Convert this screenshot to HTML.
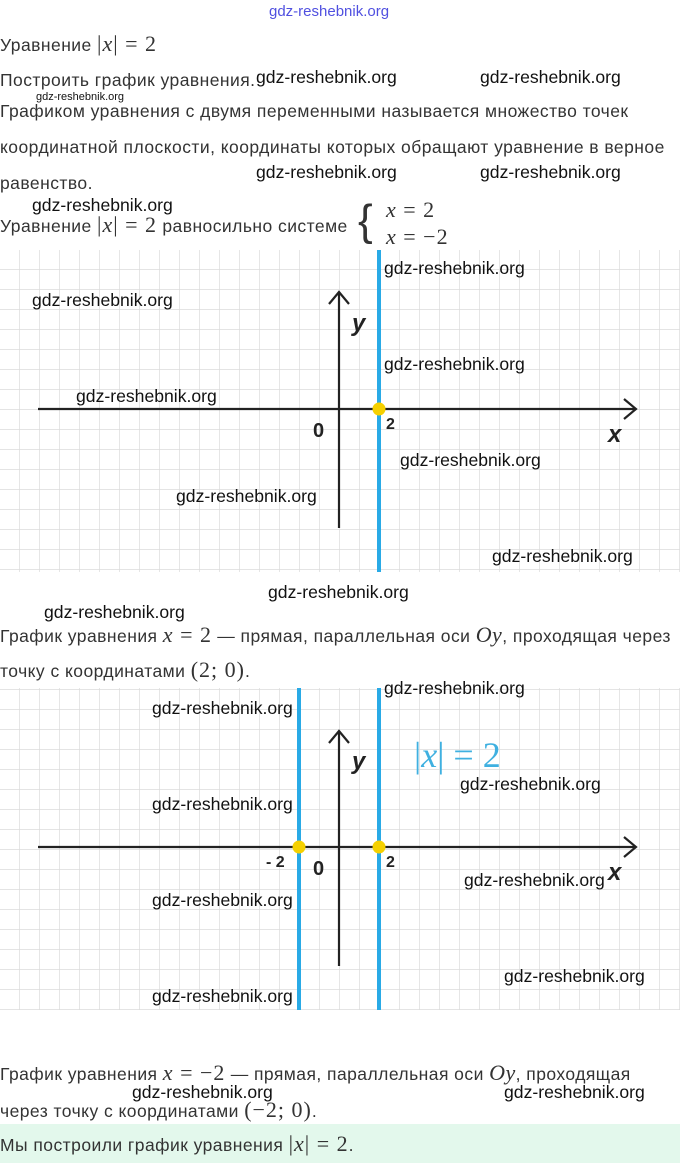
<!DOCTYPE html>
<html><head><meta charset="utf-8"><style>
body{margin:0;width:680px;height:1163px;position:relative;background:#fff;overflow:hidden;font-family:"Liberation Sans",sans-serif;}
.t{position:absolute;left:0;font-size:17.5px;letter-spacing:0.45px;color:#333;white-space:nowrap;line-height:20px;}
.m{font-family:"Liberation Serif",serif;font-size:22px;letter-spacing:1px;}
.mi{font-family:"Liberation Serif",serif;font-style:italic;font-size:22px;}
.w{position:absolute;font-size:17.6px;color:#111;white-space:nowrap;line-height:20px;font-family:"Liberation Sans",sans-serif;}
svg{position:absolute;left:0;}
</style></head><body>
<div class="w" style="left:269px;top:2px;color:#5050e0;font-size:15px">gdz-reshebnik.org</div>
<div class="t" style="top:34px">Уравнение <span class="m">|<i>x</i>| = 2</span></div>
<div class="t" style="top:70px">Построить график уравнения.</div>
<div class="w" style="left:256px;top:67px">gdz-reshebnik.org</div>
<div class="w" style="left:480px;top:67px">gdz-reshebnik.org</div>
<div class="w" style="left:36px;top:91px;font-size:11px;line-height:12px">gdz-reshebnik.org</div>
<div class="t" style="top:101px">Графиком уравнения с двумя переменными называется множество точек</div>
<div class="t" style="top:137px">координатной плоскости, координаты которых обращают уравнение в верное</div>
<div class="t" style="top:173px">равенство.</div>
<div class="w" style="left:256px;top:162px">gdz-reshebnik.org</div>
<div class="w" style="left:480px;top:162px">gdz-reshebnik.org</div>
<div class="w" style="left:32px;top:195px">gdz-reshebnik.org</div>
<div class="t" style="top:215px">Уравнение <span class="m">|<i>x</i>| = 2</span> равносильно системе</div>
<div class="t" style="left:358px;top:196px;font-size:44px;line-height:50px;color:#333">{</div>
<div class="t m" style="left:386px;top:200px"><i>x</i> = 2</div>
<div class="t m" style="left:386px;top:227px"><i>x</i> = −2</div>

<svg width="680" height="1163" style="top:0">
<defs>
<pattern id="g" width="20" height="20" patternUnits="userSpaceOnUse" x="19" y="9">
<path d="M0 0H20M0 0V20" stroke="#dcdcdc" stroke-width="1.4" fill="none"/>
</pattern>
</defs>
<rect x="0" y="250" width="680" height="322" fill="url(#g)"/>
<rect x="0" y="688" width="680" height="322" fill="url(#g)"/>
<g stroke="#222" stroke-width="2.2" fill="none">
<path d="M38 409H636M624 399L636 409L624 419"/>
<path d="M339 528V292M329 304L339 292L349 304"/>
<path d="M38 847H636M624 837L636 847L624 857"/>
<path d="M339 966V731M329 743L339 731L349 743"/>
</g>
<g stroke="#29aae6" stroke-width="4">
<path d="M379 250V572"/>
<path d="M299 688V1010M379 688V1010"/>
</g>
<g fill="#f5d000">
<circle cx="379" cy="409" r="6.5"/>
<circle cx="299" cy="847" r="6.5"/>
<circle cx="379" cy="847" r="6.5"/>
</g>
<g font-family="Liberation Sans,sans-serif" fill="#222">
<text x="352" y="331" font-size="24" font-style="italic" font-weight="bold">y</text>
<text x="608" y="442" font-size="24" font-style="italic" font-weight="bold">x</text>
<text x="313" y="437" font-size="20" font-weight="bold">0</text>
<text x="386" y="429" font-size="16" font-weight="bold">2</text>
<text x="352" y="769" font-size="24" font-style="italic" font-weight="bold">y</text>
<text x="608" y="880" font-size="24" font-style="italic" font-weight="bold">x</text>
<text x="313" y="875" font-size="20" font-weight="bold">0</text>
<text x="386" y="867" font-size="16" font-weight="bold">2</text>
<text x="266" y="867" font-size="16" font-weight="bold">- 2</text>
</g>
<text x="414" y="767" font-family="Liberation Serif,serif" font-size="36" fill="#3fb0e0">|<tspan font-style="italic">x</tspan>| = 2</text>
</svg>

<div class="w" style="left:384px;top:258px">gdz-reshebnik.org</div>
<div class="w" style="left:32px;top:290px">gdz-reshebnik.org</div>
<div class="w" style="left:384px;top:354px">gdz-reshebnik.org</div>
<div class="w" style="left:76px;top:386px">gdz-reshebnik.org</div>
<div class="w" style="left:400px;top:450px">gdz-reshebnik.org</div>
<div class="w" style="left:176px;top:486px">gdz-reshebnik.org</div>
<div class="w" style="left:492px;top:546px">gdz-reshebnik.org</div>
<div class="w" style="left:268px;top:582px">gdz-reshebnik.org</div>
<div class="w" style="left:44px;top:602px">gdz-reshebnik.org</div>
<div class="t" style="top:625px">График уравнения <span class="m"><i>x</i> = 2</span> — прямая, параллельная оси <span class="mi">Oy</span>, проходящая через</div>
<div class="t" style="top:660px">точку с координатами <span class="m">(2; 0)</span>.</div>

<div class="w" style="left:384px;top:678px">gdz-reshebnik.org</div>
<div class="w" style="left:152px;top:698px">gdz-reshebnik.org</div>
<div class="w" style="left:460px;top:774px">gdz-reshebnik.org</div>
<div class="w" style="left:152px;top:794px">gdz-reshebnik.org</div>
<div class="w" style="left:464px;top:870px">gdz-reshebnik.org</div>
<div class="w" style="left:152px;top:890px">gdz-reshebnik.org</div>
<div class="w" style="left:504px;top:966px">gdz-reshebnik.org</div>
<div class="w" style="left:152px;top:986px">gdz-reshebnik.org</div>

<div class="t" style="top:1063px">График уравнения <span class="m"><i>x</i> = −2</span> — прямая, параллельная оси <span class="mi">Oy</span>, проходящая</div>
<div class="w" style="left:132px;top:1082px">gdz-reshebnik.org</div>
<div class="w" style="left:504px;top:1082px">gdz-reshebnik.org</div>
<div class="t" style="top:1100px">через точку с координатами <span class="m">(−2; 0)</span>.</div>
<div style="position:absolute;left:0;top:1124px;width:680px;height:39px;background:#e3f8ec"></div>
<div class="t" style="top:1134px">Мы построили график уравнения <span class="m">|<i>x</i>| = 2</span>.</div>
</body></html>
